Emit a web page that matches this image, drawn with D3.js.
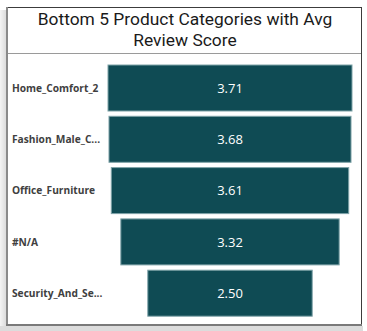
<!DOCTYPE html>
<html><head><meta charset="utf-8">
<script src="https://cdn.jsdelivr.net/npm/d3@7"></script>
<style>
html,body{margin:0;padding:0;background:#fff;}
svg{display:block;}
</style></head>
<body>
<script>
const categories = ["Home_Comfort_2","Fashion_Male_C...","Office_Furniture","#N/A","Security_And_Se..."];
const values = [3.71, 3.68, 3.61, 3.32, 2.50];
const titleLines = ["Bottom 5 Product Categories with Avg","Review Score"];

const W = 367, H = 331;
const svg = d3.select("body").append("svg").attr("width", W).attr("height", H);

const defs = svg.append("defs");
const lg = defs.append("linearGradient").attr("id","shL").attr("x1","0").attr("x2","1");
lg.append("stop").attr("offset","0").attr("stop-color","#f4f4f4");
lg.append("stop").attr("offset","1").attr("stop-color","#d4d4d4");
svg.append("rect").attr("x",0).attr("y",0).attr("width",W).attr("height",H).attr("fill","#fff");
svg.append("rect").attr("x",0).attr("y",10).attr("width",8).attr("height",H-10).attr("fill","url(#shL)");
svg.append("rect").attr("x",0).attr("y",326).attr("width",W-4).attr("height",5).attr("fill","#dcdcdc");

const cx0 = 6, cy0 = 7, cx1 = 362, cy1 = 326;
svg.append("rect").attr("x",cx0).attr("y",cy0).attr("width",cx1-cx0).attr("height",cy1-cy0).attr("fill","#fff");
svg.append("line").attr("x1",cx0).attr("x2",cx1).attr("y1",cy0+0.5).attr("y2",cy0+0.5).attr("stroke","#3c3c3c");
svg.append("line").attr("x1",cx1-0.5).attr("x2",cx1-0.5).attr("y1",cy0).attr("y2",cy1).attr("stroke","#3c3c3c");
svg.append("line").attr("x1",cx0+1).attr("x2",cx0+1).attr("y1",cy0).attr("y2",cy1).attr("stroke","#8a8a8a").attr("stroke-width",2);
svg.append("line").attr("x1",cx0).attr("x2",cx1).attr("y1",cy1-1).attr("y2",cy1-1).attr("stroke","#7a7a7a").attr("stroke-width",2);
svg.append("line").attr("x1",cx0+2).attr("x2",cx1-1).attr("y1",53.5).attr("y2",53.5).attr("stroke","#9a9a9a");

svg.append("text").attr("x",185).attr("y",25).attr("text-anchor","middle")
  .attr("font-family","Roboto, 'DejaVu Sans', sans-serif").attr("font-size",17.4).attr("fill","#1a1a1a")
  .selectAll("tspan").data(titleLines).join("tspan")
  .attr("x",185).attr("dy",(d,i)=>i===0?0:21).text(d=>d);

const centerX = 230;
const x = d3.scaleLinear().domain([0, d3.max(values)]).range([0, 244]);
const y = d3.scaleBand().domain(categories).range([65, 316.2]).paddingInner(0.103).paddingOuter(0);

const g = svg.append("g");
g.selectAll("rect.bar").data(values).join("rect").attr("class","bar")
  .attr("x",(d)=>centerX - x(d)/2)
  .attr("y",(d,i)=>y(categories[i]))
  .attr("width",d=>x(d))
  .attr("height",y.bandwidth())
  .attr("fill","#0f4b54")
  .attr("stroke","#7fa3a8").attr("stroke-width",1);

g.selectAll("text.val").data(values).join("text").attr("class","val")
  .attr("x",centerX)
  .attr("y",(d,i)=>y(categories[i]) + y.bandwidth()/2)
  .attr("dy","0.36em").attr("text-anchor","middle")
  .attr("font-family","'Open Sans', 'DejaVu Sans', sans-serif").attr("font-size",13).attr("fill","#fff")
  .text(d=>d.toFixed(2));

g.selectAll("text.cat").data(categories).join("text").attr("class","cat")
  .attr("x",12)
  .attr("y",d=>y(d) + y.bandwidth()/2)
  .attr("dy","0.36em")
  .attr("font-family","'Open Sans', 'DejaVu Sans', sans-serif").attr("font-weight","bold").attr("font-size",10.2)
  .attr("fill","#404040")
  .text(d=>d);
</script>
</body></html>
